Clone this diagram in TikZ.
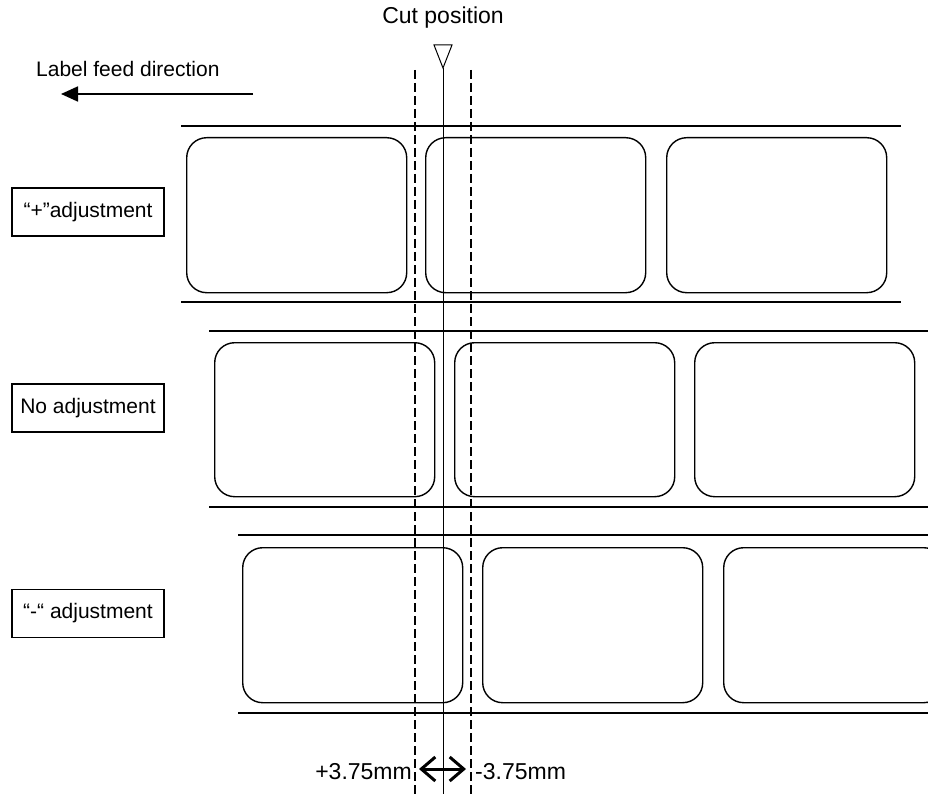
\documentclass[tikz,border=0pt]{standalone}
\usepackage{fontspec}
\setmainfont{Liberation Sans}
\usetikzlibrary{arrows.meta}
\begin{document}
\begin{tikzpicture}[x=1pt,y=-1pt,
  every node/.style={inner sep=0pt,font=\fontsize{21}{25}\selectfont},
  bigtext/.style={font=\fontsize{23}{27}\selectfont},
  labelbox/.style={draw,line width=1.4pt,rounded corners=20pt,minimum width=220pt,minimum height=154pt,anchor=north west},
  stripline/.style={line width=1.6pt},
  tagbox/.style={draw,line width=1.4pt,minimum width=152pt,minimum height=48pt},
  dashline/.style={line width=2.8pt,dash pattern=on 9pt off 4pt},
  cutline/.style={line width=1pt}]
\useasboundingbox (0,0) rectangle (928,794);
\begin{scope}
\clip (0,0) rectangle (928,794);
% strip 1
\coordinate (s1a) at (181,126); \coordinate (s1b) at (901,126);
\coordinate (s1c) at (181,302); \coordinate (s1d) at (901,302);
\draw[stripline] (s1a) -- (s1b); \draw[stripline] (s1c) -- (s1d);
\node[labelbox,minimum height=155pt] (b11) at (186,137) {};
\node[labelbox,minimum height=155pt] (b12) at (425,137) {};
\node[labelbox,minimum height=155pt] (b13) at (666,137) {};
% strip 2
\coordinate (s2a) at (209,331); \coordinate (s2b) at (940,331);
\coordinate (s2c) at (209,507); \coordinate (s2d) at (940,507);
\draw[stripline] (s2a) -- (s2b); \draw[stripline] (s2c) -- (s2d);
\node[labelbox] (b21) at (214,342) {};
\node[labelbox] (b22) at (454,342) {};
\node[labelbox] (b23) at (694,342) {};
% strip 3
\coordinate (s3a) at (238,535); \coordinate (s3b) at (940,535);
\coordinate (s3c) at (238,713); \coordinate (s3d) at (940,713);
\draw[stripline] (s3a) -- (s3b); \draw[stripline] (s3c) -- (s3d);
\node[labelbox,minimum height=155pt] (b31) at (242,547) {};
\node[labelbox,minimum height=155pt] (b32) at (482,547) {};
\node[labelbox,minimum height=155pt] (b33) at (723,547) {};
% dashed lines
\coordinate (d1t) at (415,70); \coordinate (d1b) at (415,800);
\coordinate (d2t) at (471,70); \coordinate (d2b) at (471,800);
\draw[dashline] (d1t) -- (d1b);
\draw[dashline] (d2t) -- (d2b);
% cut line and triangle
\coordinate (tl) at (434,45); \coordinate (tr) at (452,45); \coordinate (tp) at (443,68);
\coordinate (cb) at (443,800);
\draw[cutline,line join=miter] (tl) -- (tr) -- (tp) -- cycle;
\draw[cutline] (tp) -- (cb);
\end{scope}
% texts
\node[bigtext] (cut) at (443,18) {Cut position};
\node[anchor=base west] (feed) at (36,77) {Label feed direction};
\coordinate (fa) at (253,94); \coordinate (fb) at (61,94);
\draw[line width=1.8pt,-{Triangle[length=17pt,width=15pt]}] (fa) -- (fb);
% tag boxes
\node[tagbox] (tplus) at (88,212) {“+”adjustment};
\node[tagbox] (tno) at (88,408) {No adjustment};
\node[tagbox] (tminus) at (88,613.5) {“-“ adjustment};
% bottom
\node[bigtext,anchor=east] (pl) at (412,772) {+3.75mm};
\node[bigtext,anchor=west] (mi) at (475,772) {-3.75mm};
\coordinate (al) at (419,769); \coordinate (ar) at (466,769);
\draw[line width=3pt,{Straight Barb[length=14pt,width=24pt,line width=3pt]}-{Straight Barb[length=14pt,width=24pt,line width=3pt]}] (al) -- (ar);
\end{tikzpicture}
\end{document}
